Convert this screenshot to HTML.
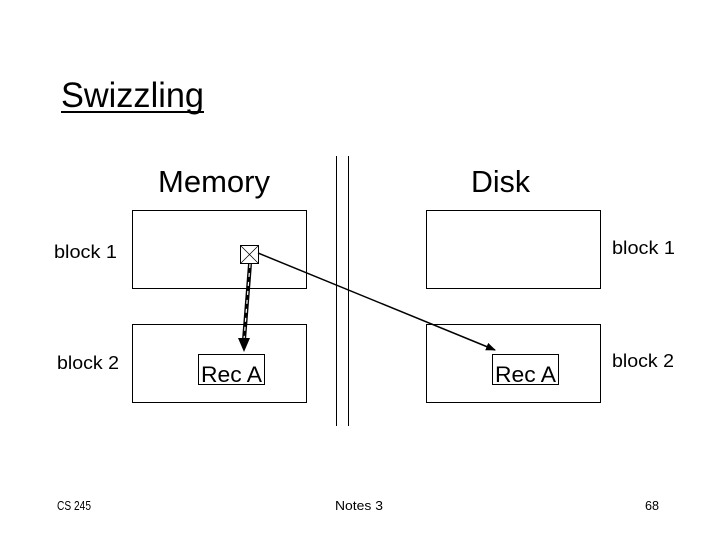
<!DOCTYPE html>
<html><head><meta charset="utf-8"><style>
body{margin:0;background:#fff;}
svg text{font-family:"Liberation Sans",sans-serif;fill:#000;}
</style></head><body>
<svg width="720" height="540" viewBox="0 0 720 540" xmlns="http://www.w3.org/2000/svg">
<defs>
<marker id="ah" markerWidth="10" markerHeight="8" refX="9" refY="4" orient="auto" markerUnits="userSpaceOnUse">
<path d="M0,0 L10,4 L0,8 z" fill="#000"/></marker>
</defs>
<text x="61" y="107" font-size="35" textLength="143" lengthAdjust="spacingAndGlyphs">Swizzling</text>
<line x1="61" y1="112" x2="204" y2="112" stroke="#000" stroke-width="2"/>
<text x="158" y="192" font-size="31" textLength="112" lengthAdjust="spacingAndGlyphs">Memory</text>
<text x="471" y="192" font-size="31" textLength="59" lengthAdjust="spacingAndGlyphs">Disk</text>
<line x1="336.5" y1="156" x2="336.5" y2="426" stroke="#000" stroke-width="1"/>
<line x1="348.5" y1="156" x2="348.5" y2="426" stroke="#000" stroke-width="1"/>
<g fill="none" stroke="#000" stroke-width="1">
<rect x="132.5" y="210.5" width="174" height="78"/>
<rect x="132.5" y="324.5" width="174" height="78"/>
<rect x="426.5" y="210.5" width="174" height="78"/>
<rect x="426.5" y="324.5" width="174" height="78"/>
<rect x="198.5" y="354.5" width="66" height="30"/>
<rect x="492.5" y="354.5" width="66" height="30"/>
<rect x="240.5" y="245.5" width="18" height="18"/>
<line x1="240.5" y1="245.5" x2="258.5" y2="263.5" stroke-width="0.7"/>
<line x1="258.5" y1="245.5" x2="240.5" y2="263.5" stroke-width="0.7"/>
</g>
<text x="54" y="258" font-size="18" textLength="63" lengthAdjust="spacingAndGlyphs">block 1</text>
<text x="57" y="369" font-size="18" textLength="62" lengthAdjust="spacingAndGlyphs">block 2</text>
<text x="612" y="254" font-size="18" textLength="63" lengthAdjust="spacingAndGlyphs">block 1</text>
<text x="612" y="367" font-size="18" textLength="62" lengthAdjust="spacingAndGlyphs">block 2</text>
<text x="201" y="382" font-size="22" textLength="61" lengthAdjust="spacingAndGlyphs">Rec A</text>
<text x="495" y="382" font-size="22" textLength="61" lengthAdjust="spacingAndGlyphs">Rec A</text>
<line x1="250" y1="264" x2="244" y2="340" stroke="#000" stroke-width="4"/>
<line x1="250" y1="264" x2="244" y2="340" stroke="#fff" stroke-width="1.2" stroke-dasharray="4,5"/>
<path d="M238,338 L244,352 L250,338 z" fill="#000"/>
<line x1="258" y1="253" x2="495" y2="350" stroke="#000" stroke-width="1.5" marker-end="url(#ah)"/>
<text x="57" y="510" font-size="13" textLength="34" lengthAdjust="spacingAndGlyphs">CS 245</text>
<text x="335" y="510" font-size="13" textLength="48" lengthAdjust="spacingAndGlyphs">Notes 3</text>
<text x="645" y="510" font-size="13" textLength="14" lengthAdjust="spacingAndGlyphs">68</text>
</svg>
</body></html>
